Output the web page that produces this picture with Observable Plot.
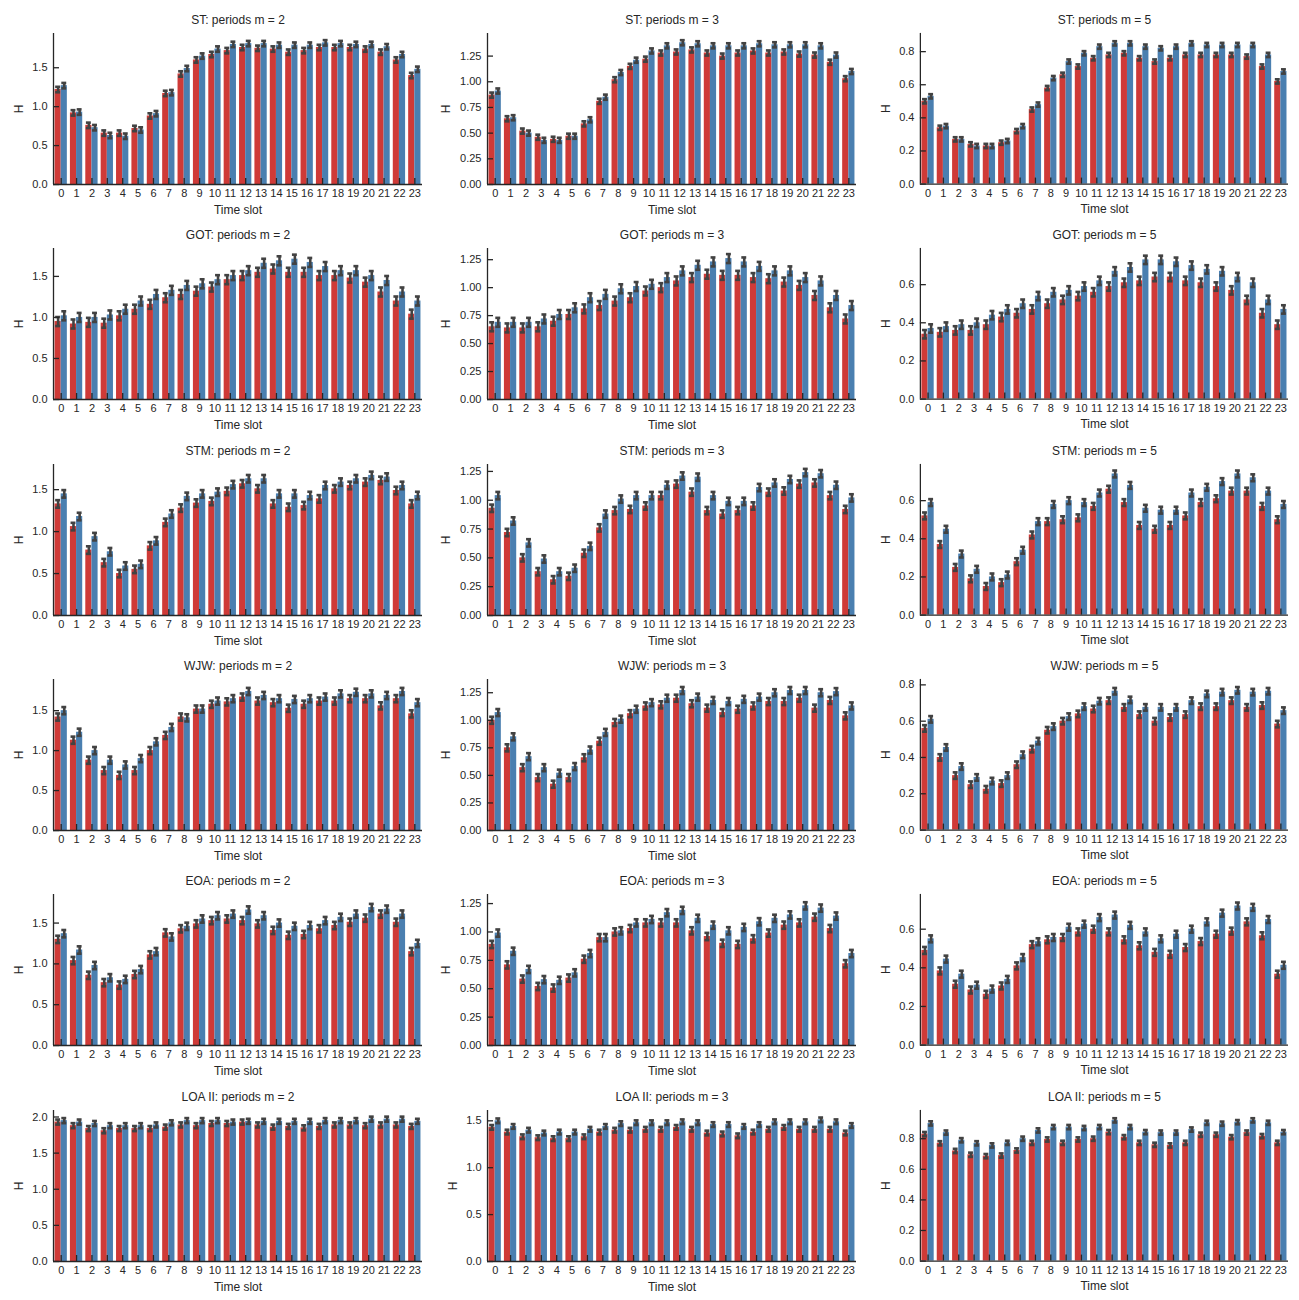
<!DOCTYPE html>
<html>
<head>
<meta charset="utf-8">
<script src="https://cdn.jsdelivr.net/npm/d3@7"></script>
<script src="https://cdn.jsdelivr.net/npm/@observablehq/plot@0.6"></script>
<style>
  html, body { margin: 0; padding: 0; background: #ffffff; }
  #grid { position: relative; width: 1299px; height: 1300px; background: #ffffff; }
  #grid > div { position: absolute; }
</style>
</head>
<body>
<div id="grid"></div>
<script>
// ---------- data ----------
const slots = d3.range(0, 24);
const datasets = ["ST", "GOT", "STM", "WJW", "EOA", "LOA II"];
const periods = [2, 3, 5];
const seriesNames = ["a", "b"];            // red bar, blue bar
const seriesColors = ["#cf3a37", "#4a7fb0"];

const ST_m2_a = [1.22,0.92,0.76,0.66,0.66,0.72,0.88,1.17,1.42,1.60,1.67,1.72,1.76,1.75,1.74,1.70,1.72,1.76,1.76,1.76,1.74,1.70,1.60,1.40];
const ST_m2_b = [1.27,0.93,0.73,0.63,0.62,0.70,0.91,1.18,1.49,1.65,1.74,1.80,1.81,1.81,1.79,1.79,1.79,1.82,1.81,1.80,1.80,1.77,1.67,1.48];
const ST_m3_a = [0.87,0.64,0.52,0.46,0.44,0.47,0.59,0.81,1.02,1.15,1.22,1.28,1.29,1.31,1.28,1.25,1.28,1.30,1.28,1.29,1.27,1.26,1.19,1.03];
const ST_m3_b = [0.91,0.65,0.50,0.43,0.43,0.47,0.63,0.85,1.09,1.21,1.30,1.35,1.38,1.37,1.35,1.35,1.35,1.37,1.36,1.36,1.36,1.35,1.26,1.10];
const ST_m5_a = [0.50,0.34,0.27,0.24,0.23,0.25,0.32,0.45,0.58,0.66,0.71,0.76,0.78,0.79,0.76,0.74,0.76,0.78,0.78,0.78,0.78,0.77,0.71,0.62];
const ST_m5_b = [0.53,0.35,0.27,0.23,0.23,0.26,0.35,0.48,0.64,0.74,0.79,0.83,0.85,0.85,0.83,0.82,0.83,0.85,0.84,0.84,0.84,0.84,0.78,0.68];

const GOT_m2_a = [0.95,0.92,0.94,0.93,1.02,1.10,1.16,1.24,1.28,1.32,1.37,1.46,1.51,1.55,1.59,1.55,1.55,1.51,1.51,1.48,1.43,1.31,1.20,1.04];
const GOT_m2_b = [1.02,1.00,1.00,1.03,1.10,1.20,1.28,1.33,1.39,1.41,1.46,1.51,1.57,1.66,1.69,1.71,1.67,1.62,1.57,1.57,1.51,1.45,1.31,1.20];
const GOT_m3_a = [0.65,0.64,0.64,0.65,0.70,0.76,0.81,0.84,0.88,0.91,0.97,1.00,1.06,1.09,1.12,1.11,1.11,1.09,1.08,1.05,1.02,0.93,0.82,0.72];
const GOT_m3_b = [0.69,0.69,0.69,0.72,0.76,0.82,0.91,0.94,0.99,1.01,1.03,1.09,1.15,1.20,1.23,1.26,1.23,1.19,1.15,1.15,1.09,1.06,0.93,0.84];
const GOT_m5_a = [0.34,0.35,0.36,0.36,0.39,0.43,0.45,0.47,0.50,0.52,0.54,0.56,0.59,0.61,0.62,0.64,0.64,0.62,0.61,0.59,0.57,0.52,0.45,0.39];
const GOT_m5_b = [0.37,0.38,0.39,0.40,0.44,0.47,0.50,0.54,0.56,0.57,0.59,0.62,0.67,0.69,0.73,0.73,0.72,0.70,0.68,0.67,0.64,0.61,0.52,0.47];

const STM_m2_a = [1.33,1.06,0.78,0.63,0.50,0.55,0.83,1.11,1.28,1.34,1.36,1.48,1.57,1.51,1.33,1.29,1.31,1.39,1.51,1.55,1.59,1.61,1.49,1.33];
const STM_m2_b = [1.45,1.18,0.94,0.76,0.59,0.61,0.89,1.21,1.42,1.45,1.47,1.56,1.63,1.63,1.45,1.45,1.43,1.55,1.59,1.63,1.67,1.65,1.55,1.43];
const STM_m3_a = [0.93,0.72,0.50,0.38,0.31,0.34,0.54,0.76,0.91,0.92,0.95,1.04,1.14,1.07,0.91,0.88,0.91,0.95,1.07,1.08,1.14,1.15,1.04,0.92];
const STM_m3_b = [1.04,0.82,0.63,0.49,0.38,0.41,0.60,0.88,1.01,1.04,1.04,1.13,1.21,1.20,1.04,0.99,0.99,1.11,1.15,1.18,1.24,1.23,1.13,1.02];
const STM_m5_a = [0.52,0.37,0.25,0.19,0.15,0.17,0.28,0.42,0.49,0.50,0.51,0.57,0.66,0.59,0.47,0.45,0.47,0.52,0.59,0.61,0.65,0.65,0.57,0.50];
const STM_m5_b = [0.59,0.45,0.32,0.24,0.20,0.21,0.34,0.49,0.58,0.60,0.59,0.64,0.74,0.68,0.56,0.55,0.55,0.64,0.67,0.70,0.74,0.72,0.65,0.58];

const WJW_m2_a = [1.42,1.13,0.88,0.75,0.69,0.75,1.00,1.19,1.42,1.52,1.58,1.61,1.67,1.62,1.60,1.53,1.58,1.62,1.62,1.65,1.65,1.56,1.65,1.46];
const WJW_m2_b = [1.50,1.23,1.00,0.88,0.82,0.90,1.11,1.29,1.41,1.52,1.62,1.65,1.74,1.69,1.65,1.64,1.65,1.67,1.71,1.73,1.71,1.69,1.74,1.60];
const WJW_m3_a = [1.00,0.75,0.57,0.48,0.42,0.48,0.66,0.81,0.98,1.06,1.13,1.14,1.20,1.15,1.11,1.07,1.10,1.13,1.17,1.17,1.20,1.11,1.18,1.04];
const WJW_m3_b = [1.07,0.85,0.67,0.57,0.52,0.58,0.73,0.89,1.01,1.10,1.16,1.20,1.27,1.21,1.18,1.17,1.19,1.21,1.25,1.27,1.27,1.25,1.26,1.13];
const WJW_m5_a = [0.56,0.40,0.30,0.25,0.225,0.256,0.36,0.446,0.55,0.60,0.64,0.667,0.713,0.676,0.636,0.60,0.62,0.636,0.68,0.68,0.713,0.676,0.686,0.584];
const WJW_m5_b = [0.61,0.455,0.35,0.29,0.27,0.30,0.415,0.49,0.57,0.625,0.68,0.71,0.765,0.717,0.676,0.676,0.676,0.713,0.75,0.76,0.77,0.76,0.765,0.658];

const EOA_m2_a = [1.30,1.04,0.86,0.77,0.74,0.87,1.11,1.38,1.43,1.49,1.53,1.55,1.53,1.49,1.41,1.35,1.36,1.43,1.47,1.51,1.56,1.61,1.51,1.15];
const EOA_m2_b = [1.37,1.17,0.98,0.83,0.81,0.93,1.15,1.33,1.46,1.55,1.59,1.61,1.66,1.59,1.50,1.46,1.47,1.53,1.57,1.61,1.69,1.67,1.61,1.25];
const EOA_m3_a = [0.89,0.71,0.585,0.52,0.506,0.594,0.76,0.95,1.00,1.03,1.08,1.08,1.08,1.01,0.96,0.90,0.89,0.94,0.99,1.06,1.08,1.13,1.03,0.72];
const EOA_m3_b = [0.99,0.83,0.67,0.58,0.574,0.64,0.81,0.95,1.01,1.08,1.11,1.17,1.19,1.12,1.06,1.01,1.04,1.09,1.12,1.15,1.23,1.21,1.14,0.81];
const EOA_m5_a = [0.49,0.384,0.315,0.285,0.263,0.306,0.41,0.52,0.545,0.557,0.586,0.60,0.586,0.545,0.514,0.48,0.47,0.505,0.536,0.574,0.59,0.638,0.566,0.367];
const EOA_m5_b = [0.55,0.445,0.367,0.31,0.29,0.34,0.453,0.535,0.557,0.61,0.626,0.66,0.673,0.62,0.586,0.55,0.574,0.60,0.638,0.683,0.72,0.713,0.65,0.413];

const LOA_m2_a = [1.93,1.88,1.84,1.81,1.84,1.84,1.84,1.86,1.89,1.88,1.91,1.91,1.93,1.89,1.86,1.87,1.85,1.87,1.89,1.89,1.88,1.89,1.89,1.87];
const LOA_m2_b = [1.95,1.93,1.91,1.88,1.88,1.88,1.89,1.92,1.95,1.95,1.95,1.93,1.94,1.94,1.94,1.94,1.94,1.95,1.95,1.95,1.97,1.97,1.97,1.94];
const LOA_m3_a = [1.43,1.38,1.33,1.32,1.31,1.31,1.33,1.38,1.40,1.40,1.41,1.41,1.43,1.41,1.37,1.36,1.34,1.38,1.41,1.43,1.41,1.41,1.41,1.37];
const LOA_m3_b = [1.50,1.44,1.40,1.37,1.38,1.38,1.41,1.44,1.47,1.48,1.48,1.48,1.49,1.48,1.46,1.46,1.44,1.46,1.49,1.49,1.49,1.51,1.49,1.45];
const LOA_m5_a = [0.83,0.77,0.72,0.695,0.686,0.69,0.723,0.773,0.795,0.773,0.795,0.80,0.843,0.81,0.773,0.76,0.756,0.773,0.826,0.826,0.81,0.84,0.817,0.773];
const LOA_m5_b = [0.90,0.84,0.79,0.77,0.756,0.773,0.80,0.854,0.876,0.876,0.87,0.876,0.92,0.876,0.843,0.84,0.84,0.86,0.904,0.898,0.908,0.92,0.904,0.843];

// error-bar half widths per panel (rows: datasets, cols: periods)
const errHalf = [
  [0.035, 0.025, 0.013],
  [0.055, 0.040, 0.022],
  [0.045, 0.032, 0.018],
  [0.045, 0.032, 0.018],
  [0.045, 0.032, 0.018],
  [0.035, 0.025, 0.014]
];
// y-axis upper limits per panel
const yTop = [
  [1.94, 1.47, 0.91],
  [1.84, 1.35, 0.79],
  [1.80, 1.31, 0.79],
  [1.89, 1.37, 0.83],
  [1.85, 1.33, 0.78],
  [2.09, 1.61, 0.985]
];
// y tick steps per panel
const yStep = [
  [0.5, 0.25, 0.2],
  [0.5, 0.25, 0.2],
  [0.5, 0.25, 0.2],
  [0.5, 0.25, 0.2],
  [0.5, 0.25, 0.2],
  [0.5, 0.5, 0.2]
];

// ---------- lookup built from the named arrays ----------
const series = {
  ST:  {2: [ST_m2_a, ST_m2_b],   3: [ST_m3_a, ST_m3_b],   5: [ST_m5_a, ST_m5_b]},
  GOT: {2: [GOT_m2_a, GOT_m2_b], 3: [GOT_m3_a, GOT_m3_b], 5: [GOT_m5_a, GOT_m5_b]},
  STM: {2: [STM_m2_a, STM_m2_b], 3: [STM_m3_a, STM_m3_b], 5: [STM_m5_a, STM_m5_b]},
  WJW: {2: [WJW_m2_a, WJW_m2_b], 3: [WJW_m3_a, WJW_m3_b], 5: [WJW_m5_a, WJW_m5_b]},
  EOA: {2: [EOA_m2_a, EOA_m2_b], 3: [EOA_m3_a, EOA_m3_b], 5: [EOA_m5_a, EOA_m5_b]},
  "LOA II": {2: [LOA_m2_a, LOA_m2_b], 3: [LOA_m3_a, LOA_m3_b], 5: [LOA_m5_a, LOA_m5_b]}
};

// ---------- drawing ----------
const FONT = "'Liberation Sans', Arial, 'DejaVu Sans', sans-serif";
const INK = "#262626";
const ERR = "#424242";
const W = 433, H = 215;
const colLeft = [0, 434, 867];
const rowTop = r => Math.round(r * 215.3);
const dodge = 0.4;     // bar width in slot units (two bars fill 0.8)
const capHalf = 0.16;  // half cap width in slot units

const grid = document.getElementById("grid");

datasets.forEach((ds, r) => {
  periods.forEach((m, c) => {
    const [va, vb] = series[ds][m];
    const e = errHalf[r][c];
    const rows = [];
    slots.forEach((s, i) => {
      rows.push({slot: s, series: "a", value: va[i], err: e});
      rows.push({slot: s, series: "b", value: vb[i], err: e});
    });
    const left = d => d.slot + (d.series === "a" ? -dodge : 0);
    const center = d => left(d) + dodge / 2;

    const step = yStep[r][c];
    const ticks = d3.range(0, yTop[r][c] + 1e-9, step).filter(t => t <= yTop[r][c]);
    const dec = step === 0.25 ? 2 : 1;
    const fmt = d3.format(`.${dec}f`);
    const maxLabel = d3.max(ticks, t => fmt(t).length);
    const labelW = (maxLabel - 1) * 6.12 + 3.06;

    const chart = Plot.plot({
      width: W,
      height: H,
      marginLeft: 53,
      marginRight: 11,
      marginTop: 33,
      marginBottom: 31,
      style: {fontFamily: FONT, fontSize: "11px", color: INK, background: "#ffffff", overflow: "visible"},
      x: {domain: [-0.5, 23.5], axis: null},
      y: {domain: [0, yTop[r][c]], axis: null},
      color: {domain: seriesNames, range: seriesColors},
      marks: [
        Plot.rect(rows, {x1: left, x2: d => left(d) + dodge, y1: 0, y2: "value", fill: "series"}),
        Plot.ruleX(rows, {x: center, y1: d => d.value - d.err, y2: d => d.value + d.err, stroke: ERR, strokeWidth: 2.6}),
        Plot.ruleY(rows, {y: d => d.value + d.err, x1: d => center(d) - capHalf, x2: d => center(d) + capHalf, stroke: ERR, strokeWidth: 2.6}),
        Plot.ruleY(rows, {y: d => d.value - d.err, x1: d => center(d) - capHalf, x2: d => center(d) + capHalf, stroke: ERR, strokeWidth: 2.6}),
        Plot.ruleX([-0.5], {stroke: INK, strokeWidth: 1.3}),
        Plot.ruleY([0], {stroke: INK, strokeWidth: 1.3}),
        Plot.axisY({ticks, tickFormat: fmt, tickSize: -6, tickPadding: 12, stroke: INK, strokeWidth: 1.3, fill: INK, fontSize: 11, label: null}),
        Plot.axisX({ticks: slots, tickFormat: d => String(d), tickSize: -6, tickPadding: 11, stroke: INK, strokeWidth: 1.3, fill: INK, fontSize: 11, label: null}),
        Plot.text([`${ds}: periods m = ${m}`], {frameAnchor: "top", dy: -18, fontSize: 12, fill: INK}),
        Plot.text(["H"], {frameAnchor: "left", dx: -(6 + labelW + 13.5), rotate: -90, textAnchor: "middle", lineAnchor: "middle", fontSize: 12, fill: INK}),
        Plot.text(["Time slot"], {frameAnchor: "bottom", dy: 29, fontSize: 12, fill: INK})
      ]
    });
    const holder = document.createElement("div");
    holder.style.left = colLeft[c] + "px";
    holder.style.top = rowTop(r) + "px";
    holder.appendChild(chart);
    grid.appendChild(holder);
  });
});
</script>
</body>
</html>
